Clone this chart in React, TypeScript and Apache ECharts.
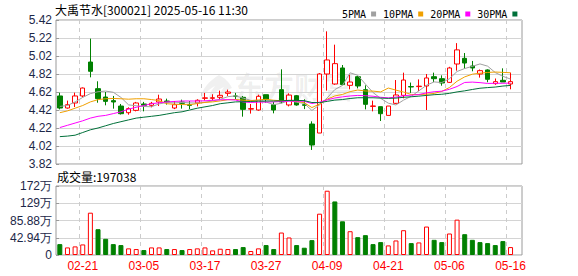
import React, { useEffect, useRef } from 'react';
import * as echarts from 'echarts';

const stockName = '大禹节水';
const stockCode = '300021';
const timeLabel = '2025-05-16 11:30';

const dates = [
  '02-18', '02-19', '02-20', '02-21', '02-24', '02-25', '02-26', '02-27', '02-28', '03-03',
  '03-04', '03-05', '03-06', '03-07', '03-10', '03-11', '03-12', '03-13', '03-14', '03-17',
  '03-18', '03-19', '03-20', '03-21', '03-24', '03-25', '03-26', '03-27', '03-28', '03-31',
  '04-01', '04-02', '04-03', '04-07', '04-08', '04-09', '04-10', '04-11', '04-14', '04-15',
  '04-16', '04-17', '04-18', '04-21', '04-22', '04-23', '04-24', '04-25', '04-28', '04-29',
  '04-30', '05-06', '05-07', '05-08', '05-09', '05-12', '05-13', '05-14', '05-15', '05-16',
];

const opens = [
  4.576, 4.442, 4.498, 4.576, 4.953, 4.657, 4.564, 4.524, 4.464, 4.39,
  4.416, 4.487, 4.472, 4.509, 4.52, 4.442, 4.509, 4.479, 4.498, 4.55,
  4.55, 4.561, 4.605, 4.576, 4.561, 4.43, 4.42, 4.59, 4.479, 4.646,
  4.476, 4.579, 4.479, 4.264, 4.164, 4.82, 4.709, 4.887, 4.694, 4.79,
  4.646, 4.46, 4.457, 4.36, 4.494, 4.583, 4.68, 4.68, 4.687, 4.79,
  4.768, 4.727, 4.931, 4.994, 4.909, 4.82, 4.865, 4.713, 4.75, 4.709,
];
const closes = [
  4.442, 4.479, 4.576, 4.664, 4.85, 4.546, 4.516, 4.509, 4.379, 4.435,
  4.498, 4.472, 4.494, 4.542, 4.51, 4.479, 4.494, 4.472, 4.528, 4.555,
  4.556, 4.583, 4.62, 4.572, 4.427, 4.435, 4.572, 4.539, 4.42, 4.509,
  4.586, 4.476, 4.472, 4.031, 4.82, 4.976, 4.935, 4.702, 4.731, 4.687,
  4.483, 4.465, 4.379, 4.464, 4.587, 4.753, 4.676, 4.685, 4.776, 4.768,
  4.72, 4.887, 5.088, 4.942, 4.887, 4.857, 4.761, 4.735, 4.731, 4.735,
];
const lows = [
  4.427, 4.435, 4.453, 4.561, 4.783, 4.501, 4.472, 4.435, 4.37, 4.368,
  4.405, 4.405, 4.45, 4.464, 4.48, 4.43, 4.435, 4.43, 4.46, 4.525,
  4.525, 4.53, 4.576, 4.54, 4.346, 4.38, 4.412, 4.5, 4.383, 4.494,
  4.46, 4.468, 4.43, 3.976, 4.164, 4.635, 4.7, 4.695, 4.65, 4.66,
  4.427, 4.405, 4.298, 4.36, 4.487, 4.55, 4.61, 4.63, 4.42, 4.731,
  4.69, 4.72, 4.857, 4.88, 4.85, 4.78, 4.728, 4.7, 4.731, 4.65,
];
const highs = [
  4.613, 4.524, 4.613, 4.67, 5.213, 4.739, 4.62, 4.576, 4.487, 4.45,
  4.51, 4.51, 4.51, 4.59, 4.546, 4.52, 4.535, 4.52, 4.539, 4.61,
  4.595, 4.635, 4.646, 4.61, 4.576, 4.487, 4.59, 4.59, 4.509, 4.872,
  4.605, 4.587, 4.539, 4.294, 4.83, 5.294, 5.146, 4.92, 4.813, 4.8,
  4.694, 4.524, 4.457, 4.464, 4.753, 4.835, 4.725, 4.76, 4.82, 4.835,
  4.805, 4.9, 5.163, 5.053, 4.965, 4.87, 4.872, 4.77, 4.883, 4.835,
];

const ma5 = [
  4.46, 4.47, 4.51, 4.56, 4.602, 4.623, 4.63, 4.617, 4.56, 4.477,
  4.467, 4.459, 4.456, 4.488, 4.503, 4.499, 4.504, 4.499, 4.497, 4.506,
  4.521, 4.539, 4.568, 4.577, 4.552, 4.527, 4.525, 4.509, 4.479, 4.495,
  4.525, 4.506, 4.493, 4.415, 4.477, 4.555, 4.647, 4.693, 4.833, 4.806,
  4.708, 4.614, 4.549, 4.496, 4.476, 4.53, 4.572, 4.633, 4.695, 4.732,
  4.725, 4.767, 4.848, 4.881, 4.905, 4.932, 4.907, 4.836, 4.794, 4.764,
];
const ma10 = [
  4.39, 4.41, 4.44, 4.47, 4.51, 4.535, 4.545, 4.548, 4.545, 4.54,
  4.545, 4.545, 4.536, 4.524, 4.49, 4.483, 4.481, 4.478, 4.492, 4.504,
  4.51, 4.521, 4.534, 4.537, 4.529, 4.524, 4.532, 4.539, 4.528, 4.523,
  4.526, 4.516, 4.501, 4.447, 4.486, 4.54, 4.576, 4.593, 4.624, 4.642,
  4.631, 4.63, 4.621, 4.664, 4.641, 4.619, 4.593, 4.591, 4.596, 4.604,
  4.627, 4.67, 4.74, 4.788, 4.818, 4.829, 4.837, 4.842, 4.838, 4.834,
];
const ma20 = [
  4.225, 4.25, 4.275, 4.3, 4.33, 4.35, 4.36, 4.38, 4.4, 4.43,
  4.45, 4.47, 4.49, 4.5, 4.51, 4.515, 4.52, 4.52, 4.52, 4.522,
  4.528, 4.533, 4.535, 4.531, 4.509, 4.504, 4.507, 4.508, 4.51, 4.514,
  4.518, 4.518, 4.517, 4.492, 4.507, 4.532, 4.554, 4.566, 4.576, 4.582,
  4.579, 4.573, 4.561, 4.555, 4.563, 4.579, 4.585, 4.592, 4.61, 4.623,
  4.629, 4.65, 4.681, 4.726, 4.73, 4.724, 4.715, 4.717, 4.717, 4.719,
];
const ma30 = [
  4.124, 4.13, 4.14, 4.17, 4.2, 4.22, 4.245, 4.27, 4.29, 4.31,
  4.33, 4.34, 4.35, 4.36, 4.375, 4.39, 4.4, 4.42, 4.44, 4.455,
  4.47, 4.49, 4.5, 4.51, 4.512, 4.515, 4.518, 4.52, 4.52, 4.522,
  4.527, 4.527, 4.524, 4.503, 4.502, 4.516, 4.53, 4.536, 4.548, 4.556,
  4.556, 4.556, 4.552, 4.549, 4.552, 4.561, 4.567, 4.574, 4.582, 4.59,
  4.595, 4.605, 4.621, 4.633, 4.648, 4.662, 4.669, 4.675, 4.686, 4.693,
];

const volumes = [
  271000, 189000, 214000, 263000, 1053000, 642000, 403000, 271000, 247000, 165000,
  148000, 123000, 189000, 189000, 148000, 148000, 123000, 148000, 165000, 189000,
  115000, 156000, 148000, 148000, 197000, 99000, 165000, 247000, 148000, 559000,
  436000, 247000, 181000, 370000, 1028000, 1600000, 1333000, 839000, 592000, 444000,
  494000, 271000, 321000, 239000, 362000, 617000, 296000, 313000, 708000, 378000,
  321000, 535000, 880000, 518000, 378000, 321000, 296000, 247000, 346000, 197038,
];
// 1 = red (up), 0 = green (down)
const volumeUp = [
  0, 1, 1, 1, 1, 0, 0, 0, 0, 1,
  1, 0, 1, 1, 0, 1, 0, 1, 1, 1,
  1, 1, 1, 0, 0, 1, 1, 0, 0, 1,
  1, 0, 0, 0, 1, 1, 0, 0, 1, 0,
  0, 0, 0, 1, 1, 1, 0, 1, 1, 0,
  0, 1, 1, 0, 0, 0, 0, 0, 0, 1,
];

const maNames = ['5PMA', '10PMA', '20PMA', '30PMA'];
const maColors = ['#a0a0a0', '#f0a000', '#ff00ff', '#00703a'];

const PRICE_MIN = 3.82;
const PRICE_MAX = 5.42;
const PRICE_STEP = 0.2;
const VOL_MAX = 1717600;
const VOL_STEP = 429400;

const LABEL_FONT = '"Liberation Sans", Arial, sans-serif';
const CJK_FONT = '"Noto Sans CJK SC", "Noto Sans", sans-serif';

const LOGO_D =
  'M22 0 C12 6 4 14 3 27 C7 19 12 14 18 11 C13 17 11 22 12 27 C15 20 20 15 27 12 C22 19 21 23 22 27 C25 19 30 15 35 13 C32 7 28 3 22 0 Z';

let logoRegistered = false;

export default function App() {
  const ref = useRef<HTMLDivElement>(null);

  useEffect(() => {
    if (!ref.current) return;
    if (!logoRegistered) {
      echarts.graphic.registerShape('logo', echarts.graphic.extendPath(LOGO_D, {}));
      logoRegistered = true;
    }
    const chart = echarts.init(ref.current, undefined, { renderer: 'svg' });
    const base = PRICE_MIN;
    const cats = [...dates, ''];
    const showEvery = (i: number) => i % 8 === 3 && i < dates.length;

    const maLists = [ma5, ma10, ma20, ma30];

    const option: any = {
      animation: false,
      backgroundColor: '#ffffff',
      legend: {
        data: maNames,
        left: 337,
        top: 4,
        align: 'right',
        icon: 'rect',
        itemWidth: 5,
        itemHeight: 5,
        itemGap: 7,
        textStyle: { fontFamily: '"DejaVu Sans Mono", monospace', fontSize: 10, color: '#000' },
      },
      graphic: [
        {
          type: 'text',
          left: 55,
          top: 3,
          z: 10,
          style: {
            text: `${stockName}[${stockCode}] ${timeLabel}`,
            fontFamily: CJK_FONT,
            fontSize: 12,
            fill: '#000',
          },
        },
        {
          type: 'text',
          left: 57,
          top: 170,
          z: 10,
          style: {
            text: `成交量:${volumes[volumes.length - 1]}`,
            fontFamily: CJK_FONT,
            fontSize: 12,
            fill: '#000',
          },
        },
        {
          type: 'logo',
          x: 197,
          y: 75,
          scaleX: 1,
          scaleY: 1,
          z: 0,
          style: { fill: 'rgba(0,0,0,0.06)' },
        },
        {
          type: 'text',
          left: 234,
          top: 70,
          z: 0,
          style: {
            text: '东方财富',
            fontFamily: CJK_FONT,
            fontSize: 30,
            fontWeight: 'bold',
            fill: 'rgba(0,0,0,0.07)',
          },
        },
      ],
      grid: [
        { left: 56, right: 56, top: 20, height: 144, show: true, borderColor: '#9a9a9a', borderWidth: 1 },
        { left: 56, right: 56, top: 186, height: 69, show: true, borderColor: '#9a9a9a', borderWidth: 1 },
      ],
      xAxis: [
        {
          type: 'category',
          gridIndex: 0,
          data: cats,
          boundaryGap: true,
          axisLine: { show: false },
          axisTick: { show: false },
          axisLabel: { show: false },
          splitLine: {
            show: true,
            interval: (i: number) => showEvery(i),
            lineStyle: { color: '#cccccc', type: [4, 4], width: 1 },
          },
        },
        {
          type: 'category',
          gridIndex: 1,
          data: cats,
          boundaryGap: true,
          axisLine: { show: false },
          axisTick: { show: false },
          axisLabel: {
            show: true,
            interval: (i: number) => showEvery(i),
            color: '#ff0000',
            fontFamily: LABEL_FONT,
            fontSize: 12,
            margin: 5,
          },
          splitLine: {
            show: true,
            interval: (i: number) => showEvery(i),
            lineStyle: { color: '#cccccc', type: [4, 4], width: 1 },
          },
        },
      ],
      yAxis: [
        {
          type: 'value',
          gridIndex: 0,
          min: 0,
          max: PRICE_MAX - PRICE_MIN,
          interval: PRICE_STEP,
          axisLine: { show: false },
          axisTick: { show: true, inside: true, length: 3, lineStyle: { color: '#9a9a9a' } },
          axisLabel: {
            color: '#1c2748',
            fontFamily: LABEL_FONT,
            fontSize: 12,
            margin: 4,
            formatter: (v: number) => (v + base).toFixed(2),
          },
          splitLine: { show: true, lineStyle: { color: '#d4d4d4', width: 1 } },
        },
        {
          type: 'value',
          gridIndex: 1,
          min: 0,
          max: VOL_MAX,
          interval: VOL_STEP,
          axisLine: { show: false },
          axisTick: { show: true, inside: true, length: 3, lineStyle: { color: '#9a9a9a' } },
          axisLabel: {
            color: '#1c2748',
            fontFamily: LABEL_FONT,
            fontSize: 12,
            margin: 4,
            formatter: (v: number) => {
              if (v === 0) return '0';
              const w = v / 10000;
              return (w >= 100 ? String(Math.round(w)) : w.toFixed(2)) + '万';
            },
          },
          splitLine: { show: true, lineStyle: { color: '#d4d4d4', width: 1 } },
        },
      ],
      series: [
        {
          type: 'candlestick',
          name: 'K',
          xAxisIndex: 0,
          yAxisIndex: 0,
          barWidth: 5,
          z: 3,
          data: dates.map((_, i) => [
            opens[i] - base,
            closes[i] - base,
            lows[i] - base,
            highs[i] - base,
          ]),
          itemStyle: {
            color: '#ffffff',
            color0: '#008000',
            borderColor: '#ff0000',
            borderColor0: '#008000',
            borderWidth: 1,
          },
        },
        ...maNames.map((name, k) => ({
          type: 'line',
          name,
          xAxisIndex: 0,
          yAxisIndex: 0,
          symbol: 'none',
          z: 4,
          color: maColors[k],
          lineStyle: { color: maColors[k], width: 1 },
          data: maLists[k].map((v) => v - base),
        })),
        {
          type: 'bar',
          name: 'VOL',
          xAxisIndex: 1,
          yAxisIndex: 1,
          barWidth: 5,
          data: volumes.map((v, i) => ({
            value: v,
            itemStyle: volumeUp[i]
              ? { color: '#ffffff', borderColor: '#ff0000', borderWidth: 1 }
              : { color: '#008000', borderColor: '#008000', borderWidth: 1 },
          })),
        },
      ],
    };

    chart.setOption(option);
    return () => chart.dispose();
  }, []);

  return (
    <div
      ref={ref}
      style={{ position: 'fixed', left: 0, top: 0, width: 578, height: 276 }}
    />
  );
}
